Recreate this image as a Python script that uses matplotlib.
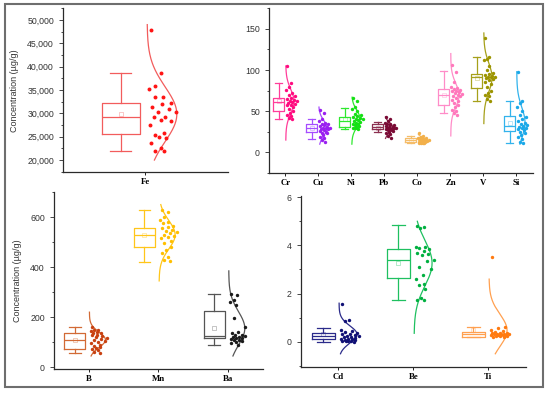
import numpy as np
import matplotlib.pyplot as plt
from matplotlib.ticker import AutoMinorLocator, FuncFormatter, MultipleLocator
from matplotlib.patches import Rectangle

# ---- raw sample values (ug/g) ----
fe = [47900, 38700, 35900, 35150, 33500, 33570, 32140, 32070, 31300, 30860, 30290, 30290,
      29140, 29140, 28430, 28570, 27500, 25710, 25430, 24640, 25000, 23710, 22500, 22000, 21930]

cr = [105, 84, 80, 76, 72, 70, 68, 66, 65, 64, 63, 62, 61, 60, 59, 58, 57, 55, 53, 50, 48, 46, 44, 42, 41]
cu = [52, 48, 41, 38, 36, 35, 34, 33, 32, 31, 30, 30, 29, 28, 28, 27, 26, 25, 24, 23, 21, 19, 17, 15, 13]
ni = [66, 63, 55, 53, 50, 47, 45, 44, 43, 42, 41, 40, 39, 38, 37, 36, 35, 34, 33, 32, 31, 30, 29, 29, 28]
pb = [43, 40, 38, 36, 35, 34, 33, 33, 32, 31, 31, 30, 30, 29, 29, 28, 28, 27, 27, 26, 25, 24, 22, 20, 18]
co = [23, 20, 19, 18, 18, 17, 17, 16, 16, 15, 15, 15, 14, 14, 14, 13, 13, 13, 12, 12, 12, 11, 11, 11, 11]
zn = [106, 98, 85, 80, 78, 77, 76, 75, 74, 73, 72, 71, 70, 69, 68, 66, 64, 62, 60, 58, 55, 52, 50, 48, 46]
v = [139, 116, 114, 112, 105, 100, 97, 95, 94, 93, 92, 92, 91, 90, 89, 88, 86, 83, 80, 75, 72, 70, 68, 65, 63]
si = [98, 62, 60, 55, 50, 45, 43, 40, 38, 36, 34, 33, 32, 31, 30, 29, 28, 27, 25, 23, 21, 19, 16, 13, 11]

b = [160, 150, 147, 145, 140, 137, 135, 130, 128, 125, 120, 115, 112, 108, 105, 100, 95, 90, 85, 80,
     75, 72, 68, 62, 55]
mn = [630, 620, 600, 590, 580, 575, 565, 560, 555, 550, 545, 540, 535, 530, 525, 520, 515, 505, 495,
      480, 470, 455, 440, 430, 425]
ba = [292, 290, 270, 260, 250, 195, 160, 140, 135, 130, 128, 125, 122, 120, 118, 115, 113, 110, 108,
      105, 100, 95, 90]

cd = [1.58, 0.9, 0.85, 0.5, 0.45, 0.4, 0.35, 0.32, 0.3, 0.28, 0.25, 0.22, 0.2, 0.18, 0.15, 0.13, 0.12,
      0.1, 0.08, 0.06, 0.05, 0.03, 0.02, 0.01, 0.0]
be = [4.8, 4.78, 4.72, 3.95, 3.92, 3.9, 3.85, 3.75, 3.7, 3.65, 3.6, 3.4, 3.35, 3.1, 3.0, 2.75, 2.6, 2.4,
      2.35, 2.2, 1.8, 1.75, 1.72]
ti = [3.5, 0.6, 0.55, 0.5, 0.45, 0.4, 0.38, 0.36, 0.35, 0.34, 0.33, 0.32, 0.31, 0.3, 0.29, 0.28, 0.27,
      0.26, 0.25, 0.24, 0.22, 0.2, 0.18]

# ---- box statistics ----
fe_names = ["Fe"]
fe_whislo = [22000]; fe_q1 = [25600]; fe_med = [29200]; fe_q3 = [32200]; fe_whishi = [38700]
fe_curve_lo = [20000]; fe_curve_hi = [49000]

top_names = ["Cr", "Cu", "Ni", "Pb", "Co", "Zn", "V", "Si"]
top_whislo = [41, 16, 28, 25, 11, 48, 63, 11]
top_q1 = [50, 25, 31, 28, 12.5, 57.5, 78.5, 26.5]
top_med = [61, 29.5, 37.5, 30.5, 14.5, 70, 91.5, 32]
top_q3 = [66, 34.5, 43, 34, 17, 77.5, 95, 44]
top_whishi = [84, 40.5, 54, 37, 20, 98.5, 116, 63]
top_curve_lo = [15, 10, 10, 17, 11, 20, 35, 10]
top_curve_hi = [105, 55, 67, 43, 22, 120, 145, 98]

bl_names = ["B", "Mn", "Ba"]
bl_whislo = [55, 420, 89]
bl_q1 = [73, 479, 116]
bl_med = [109, 529, 123]
bl_q3 = [137, 556, 223]
bl_whishi = [160, 630, 292]
bl_curve_lo = [45, 345, 45]
bl_curve_hi = [220, 650, 385]

br_names = ["Cd", "Be", "Ti"]
br_whislo = [0.0, 1.72, 0.18]
br_q1 = [0.11, 2.65, 0.2]
br_med = [0.23, 3.4, 0.3]
br_q3 = [0.37, 3.85, 0.41]
br_whishi = [0.58, 4.84, 0.6]
br_curve_lo = [-0.5, 0.35, -0.5]
br_curve_hi = [1.6, 5.0, 2.6]

# colours (box / points)
fe_box = ["#f25c5c"]; fe_dot = ["#ff1414"]
top_box = ["#ff3d9a", "#a64dff", "#2ee82e", "#8c3050", "#f5bd6a", "#ff8cc8", "#a6a01a", "#33b3ec"]
top_dot = ["#ff0a7f", "#9a1ff0", "#14e014", "#7a0a35", "#f2b04a", "#ff78bc", "#9c9400", "#1aa8e8"]
bl_box = ["#d26a35", "#ffc61a", "#555555"]
bl_dot = ["#c84010", "#ffbf00", "#1a1a1a"]
br_box = ["#2b2b8a", "#1fc060", "#ffa050"]
br_dot = ["#101075", "#00b040", "#ff7a10"]


def panel(ax, names, samples, whislo, q1, med, q3, whishi, clo, chi, cbox, cdot,
          box_w, box_off, amp, dot_s=6, spread=1.0):
    pos = np.arange(1, len(names) + 1)
    for i, vals in enumerate(samples):
        vals = np.asarray(vals, dtype=float)
        st = [dict(whislo=whislo[i], q1=q1[i], med=med[i], q3=q3[i], whishi=whishi[i],
                   mean=vals.mean(), fliers=[])]
        lw = 0.9
        ax.bxp(st, positions=[pos[i] + box_off], widths=box_w, capwidths=box_w * 0.55,
               showmeans=True, patch_artist=False,
               boxprops=dict(color=cbox[i], lw=lw), whiskerprops=dict(color=cbox[i], lw=lw),
               capprops=dict(color=cbox[i], lw=lw), medianprops=dict(color=cbox[i], lw=lw),
               meanprops=dict(marker="s", markersize=2.2, markerfacecolor="none",
                              markeredgecolor=cbox[i], markeredgewidth=0.4, alpha=0.6),
               manage_ticks=False)
        # normal curve
        m = vals.mean()
        s = vals.std(ddof=1)
        yy = np.linspace(clo[i], chi[i], 200)
        g = np.exp(-0.5 * ((yy - m) / s) ** 2)
        ax.plot(pos[i] + 0.01 + amp * g, yy, color=cbox[i], lw=0.9)
        # points spread between tick and curve
        gv = np.exp(-0.5 * ((vals - m) / s) ** 2)
        frac = (np.arange(len(vals)) * 0.618 + 0.15) % 1.0
        xs = pos[i] + 0.03 * amp / 0.25 + frac * np.maximum(amp * gv, 0.55 * amp) * spread
        ax.scatter(xs, vals, s=dot_s, color=cdot[i], linewidths=0, zorder=3)
    ax.set_xticks(pos)
    ax.set_xticklabels(names, fontfamily="Liberation Serif", fontweight="bold", fontsize=6.3)
    ax.set_xlim(0.5, len(names) + 0.5)
    for sp in ["top", "right"]:
        ax.spines[sp].set_visible(False)
    for sp in ["left", "bottom"]:
        ax.spines[sp].set_color("#2a2a2a")
        ax.spines[sp].set_linewidth(0.9)
    ax.yaxis.set_minor_locator(AutoMinorLocator(2))
    ax.tick_params(axis="y", which="major", length=3, width=0.6, labelsize=6.3,
                   labelcolor="#333333", colors="#2a2a2a")
    ax.tick_params(axis="y", which="minor", length=1.6, width=0.5)
    ax.tick_params(axis="x", length=2.5, width=0.6, pad=2)
    for t in ax.get_yticklabels():
        t.set_color("#333333")


fig = plt.figure(figsize=(5.5, 3.94), dpi=100)
plt.rcParams["font.family"] = ["Liberation Sans", "DejaVu Sans"]

ax1 = fig.add_axes([0.1145, 0.563, 0.300, 0.416])
panel(ax1, fe_names, [fe], fe_whislo, fe_q1, fe_med, fe_q3, fe_whishi, fe_curve_lo, fe_curve_hi,
      fe_box, fe_dot, 0.23, -0.15, 0.18, dot_s=8, spread=0.95)
ax1.set_ylim(17400, 52500)
ax1.yaxis.set_major_locator(MultipleLocator(5000))
ax1.yaxis.set_major_formatter(FuncFormatter(lambda x, p: f"{int(x):,}"))
ax1.set_ylabel("Concentration (\u00b5g/g)", fontsize=6.5, color="#333333", labelpad=6)

ax2 = fig.add_axes([0.489, 0.561, 0.480, 0.418])
panel(ax2, top_names, [cr, cu, ni, pb, co, zn, v, si], top_whislo, top_q1, top_med, top_q3,
      top_whishi, top_curve_lo, top_curve_hi, top_box, top_dot, 0.34, -0.21, 0.25,
      dot_s=6, spread=1.3)
ax2.set_ylim(-25, 175)
ax2.yaxis.set_major_locator(MultipleLocator(50))

ax3 = fig.add_axes([0.098, 0.0635, 0.380, 0.449])
panel(ax3, bl_names, [b, mn, ba], bl_whislo, bl_q1, bl_med, bl_q3, bl_whishi, bl_curve_lo,
      bl_curve_hi, bl_box, bl_dot, 0.30, -0.20, 0.23, dot_s=6, spread=1.1)
ax3.set_ylim(-7, 700)
ax3.yaxis.set_major_locator(MultipleLocator(200))
ax3.set_ylabel("Concentration (\u00b5g/g)", fontsize=6.5, color="#333333", labelpad=6)

ax4 = fig.add_axes([0.547, 0.0685, 0.409, 0.434])
panel(ax4, br_names, [cd, be, ti], br_whislo, br_q1, br_med, br_q3, br_whishi, br_curve_lo,
      br_curve_hi, br_box, br_dot, 0.31, -0.20, 0.24, dot_s=6, spread=1.1)
ax4.set_ylim(-1.05, 6.05)
ax4.yaxis.set_major_locator(MultipleLocator(2))

# outer frame
fig.patches.append(Rectangle((0.009, 0.018), 0.978, 0.972, transform=fig.transFigure,
                             fill=False, edgecolor="#6e6e6e", linewidth=1.5))

fig.savefig("out.png", dpi=100)
